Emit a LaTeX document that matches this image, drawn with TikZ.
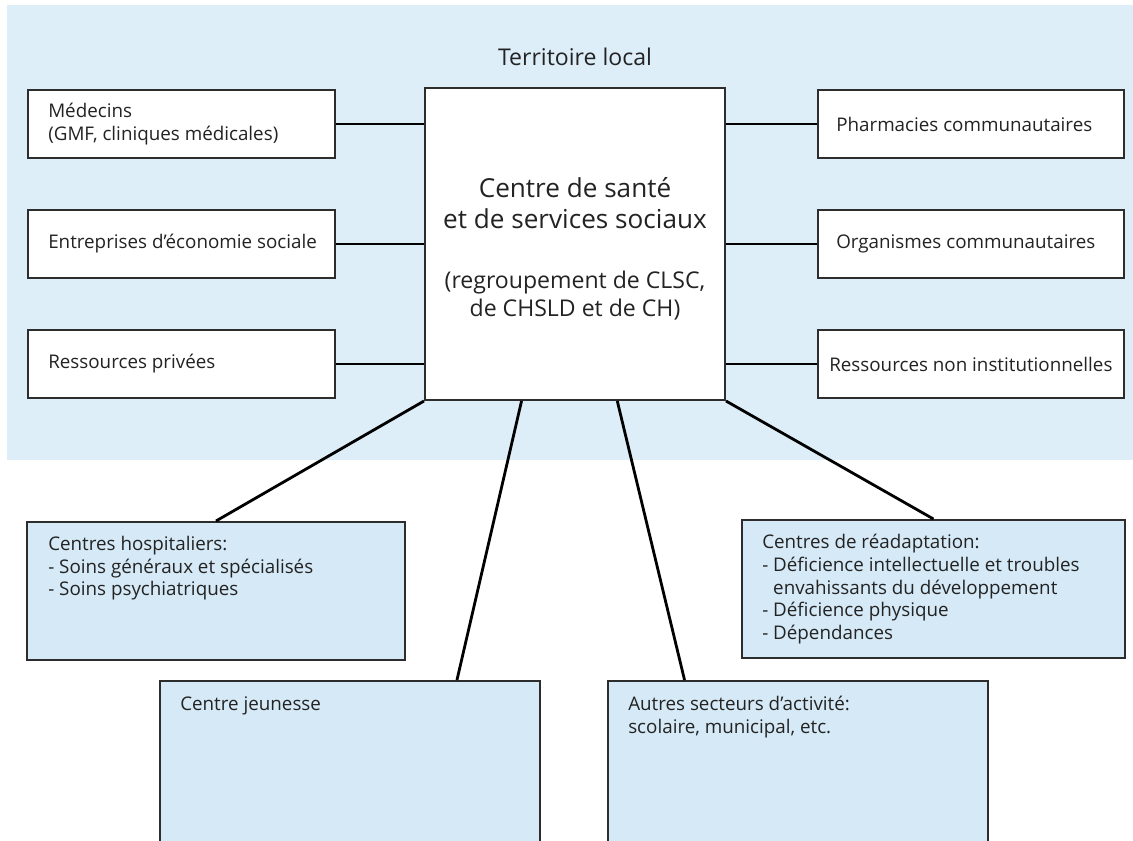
\documentclass[tikz,border=0pt]{standalone}
\usepackage{fontspec}
\setmainfont{Open Sans}
\usetikzlibrary{calc}
\definecolor{bgblue}{RGB}{221,238,248}
\definecolor{boxblue}{RGB}{213,233,246}
\definecolor{edge}{RGB}{45,45,45}
\definecolor{txt}{RGB}{35,35,35}
\tikzset{
  sidebox/.style={draw=edge, line width=1.5pt, fill=white, minimum width=230pt, minimum height=51pt, inner sep=0pt},
  lowbox/.style={draw=edge, line width=1.5pt, fill=boxblue, inner sep=0pt},
  boxtext/.style={align=left, inner sep=0pt, font=\fontsize{14.1}{17}\selectfont, text=txt},
  lowtext/.style={boxtext, anchor=north west},
  sidetext/.style={boxtext, anchor=west},
  link/.style={line width=2.1pt, black},
}
\begin{document}
\begin{tikzpicture}[x=0.75pt,y=-0.75pt]
\useasboundingbox (0,0) rectangle (1133,840);
\clip (0,0) rectangle (1133,840);
\fill[bgblue] (7,5) rectangle (1133,460);
\node[font=\fontsize{17.3}{20}\selectfont, text=txt] (title) at (575,57) {Territoire local};

\node[draw=edge, line width=1.5pt, fill=white, minimum width=225pt, minimum height=234pt, inner sep=0pt] (csss) at (575,244) {};
\node[align=center, font=\fontsize{19.6}{23.5}\selectfont, text=txt] (csssT) at (575,203) {Centre de santé\\et de services sociaux};
\node[align=center, font=\fontsize{17.3}{21}\selectfont, text=txt] (csssB) at (575,296) {(regroupement de CLSC,\\de CHSLD et de CH)};

\node[sidebox] (med) at (181.5,124) {};
\node[sidebox] (ent) at (181.5,244) {};
\node[sidebox] (priv) at (181.5,364) {};
\node[sidebox] (pharm) at (971,124) {};
\node[sidebox] (org) at (971,244) {};
\node[sidebox] (nonins) at (971,364) {};
\node[sidetext] (medT) at (48,124) {Médecins\\(GMF, cliniques médicales)};
\node[sidetext] (entT) at (48,244) {Entreprises d’économie sociale};
\node[sidetext] (privT) at (48,364) {Ressources privées};
\node[sidetext] (pharmT) at (836,124) {Pharmacies communautaires};
\node[sidetext] (orgT) at (836,244) {Organismes communautaires};
\node[sidetext] (noninsT) at (829,364) {Ressources non institutionnelles};

\foreach \n in {med,ent,priv} \draw[link] (\n.east) -- (csss.west |- \n.east);
\foreach \n in {pharm,org,nonins} \draw[link] (\n.west) -- (csss.east |- \n.west);

\node[lowbox, minimum width=283.5pt, minimum height=103.5pt] (hosp) at (216,591) {};
\node[lowtext] (hospT) at (48,536) {Centres hospitaliers:\\- Soins généraux et spécialisés\\- Soins psychiatriques};
\node[lowbox, minimum width=287.25pt, minimum height=103.5pt] (read) at (933.5,589) {};
\node[lowtext] (readT) at (762,534) {Centres de réadaptation:\\- Déficience intellectuelle et troubles\\\phantom{- }envahissants du développement\\- Déficience physique\\- Dépendances};
\node[lowbox, minimum width=285pt, minimum height=150pt] (cj) at (350,781) {};
\node[lowtext] (cjT) at (180,696) {Centre jeunesse};
\node[lowbox, minimum width=285pt, minimum height=150pt] (aut) at (798,781) {};
\node[lowtext] (autT) at (628,696) {Autres secteurs d’activité:\\scolaire, municipal, etc.};

\draw[link] (csss.south west) -- (hosp.north);
\draw[link] (csss.south east) -- (read.north);
\draw[link] ($(csss.south west)!0.323!(csss.south east)$) -- ($(cj.north west)!0.78!(cj.north east)$);
\draw[link] ($(csss.south west)!0.64!(csss.south east)$) -- ($(aut.north west)!0.203!(aut.north east)$);
\end{tikzpicture}
\end{document}
